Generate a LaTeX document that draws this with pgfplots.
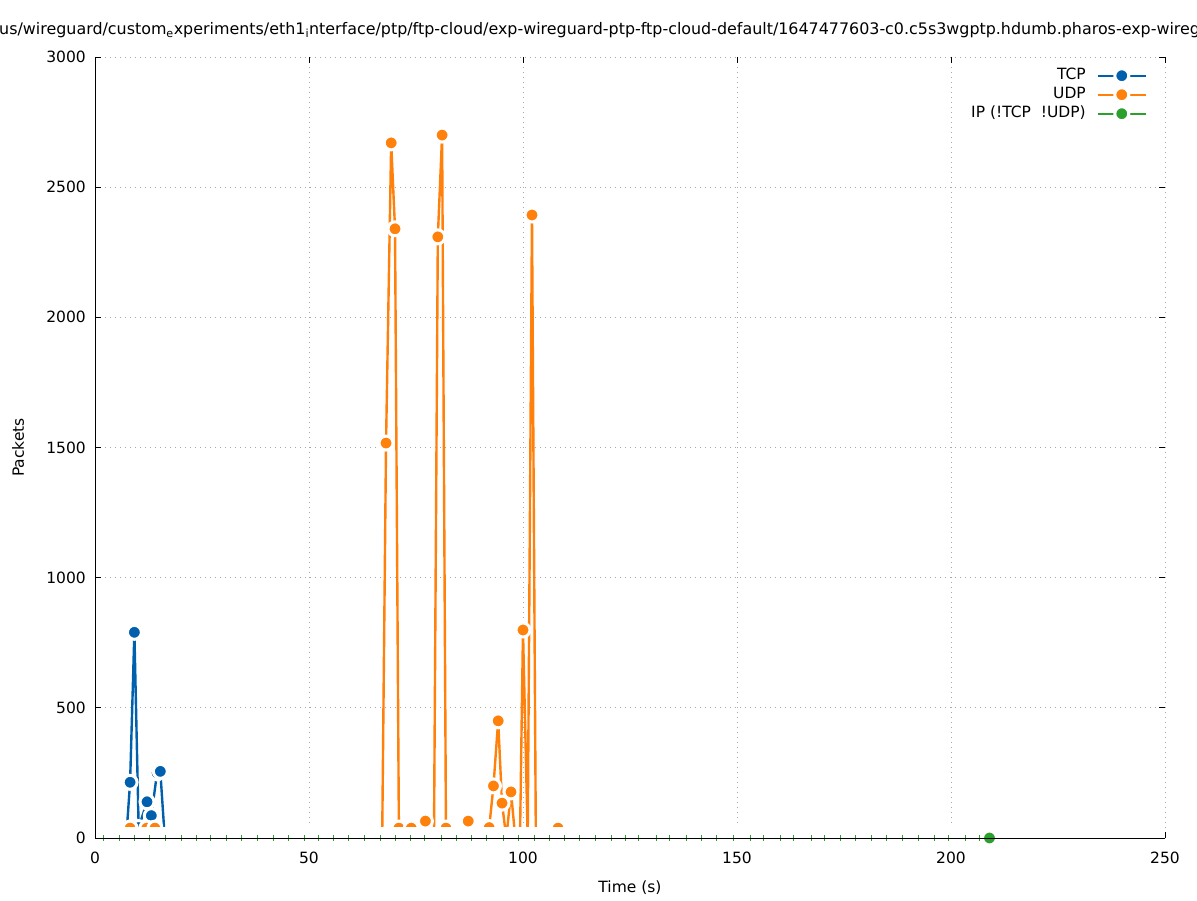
\documentclass[border=0pt]{standalone}
\usepackage{fontspec}
\setmainfont{DejaVu Sans}
\usepackage{pgfplots}
\pgfplotsset{compat=1.18}
\definecolor{tcpblue}{HTML}{0060AD}
\definecolor{udporange}{HTML}{FF800A}
\definecolor{ipgreen}{HTML}{2CA02C}
\definecolor{gridgray}{HTML}{A8A8A8}
\begin{document}
\fontsize{15.5pt}{18pt}\selectfont
\begin{tikzpicture}
\useasboundingbox (0,0) rectangle (1197pt,900pt);
\node[anchor=base west, inner sep=0pt, font=\fontsize{15.9pt}{18pt}\selectfont] at (-1pt,865pt) {us/wireguard/custom\textsubscript{e}xperiments/eth1\textsubscript{i}nterface/ptp/ftp-cloud/exp-wireguard-ptp-ftp-cloud-default/1647477603-c0.c5s3wgptp.hdumb.pharos-exp-wireguard-ptp};
\begin{axis}[name=ax, at={(95pt,62pt)}, anchor=south west, scale only axis,
  width=1070pt, height=781pt,
  xmin=0, xmax=250, ymin=0, ymax=3000,
  xtick={0,50,...,250}, ytick={0,500,...,3000},
  axis line style={draw=none},
  tick align=inside, major tick length=6pt, tick style={black, line width=0.8pt},
  xtick pos=both, ytick pos=both,
  grid=major, grid style={gridgray, dash pattern=on 1pt off 4pt, line width=0.8pt},
  tick label style={inner sep=0pt},
  /pgf/number format/assume math mode=true,
  /pgf/number format/1000 sep={},
  xticklabel shift=14pt, yticklabel shift=9pt,
  xlabel={Time (s)}, ylabel={Packets},
  every axis x label/.style={at={(axis description cs:0.5,0)}, anchor=base, inner sep=0pt, yshift=-54pt},
  every axis y label/.style={at={(axis description cs:-0.07196,0.5)}, rotate=90, anchor=center, inner sep=0pt},
  legend style={at={(axis description cs:1,1)}, anchor=north east, xshift=-18pt, yshift=-11.5pt,
    draw=none, fill=none, inner sep=0pt, row sep=5pt, column sep=11pt,
    nodes={inner sep=0pt, text height=11pt, text depth=3pt}},
  legend cell align=right, legend plot pos=right,
  legend image code/.code={\draw[mark repeat=2,mark phase=2, line width=2pt] plot coordinates {(0pt,0pt) (24pt,0pt) (48pt,0pt)};},
  clip=false, clip marker paths=true,
]
\addplot[tcpblue, line width=2.4pt, mark=*, mark size=7pt,
  mark options={draw=white, fill=tcpblue, line width=3pt}] coordinates {
(7.3,0) (8.2,214) (9.2,790) (10.2,40) (12.15,139) (13.16,86) (14.5,250) (15.26,256) (16.3,0)
};
\addlegendentry{TCP}
\addplot[udporange, line width=2.4pt, mark=*, mark size=7pt,
  mark options={draw=white, fill=udporange, line width=3pt}] coordinates {
(7.2,0) (8.2,38) (9.2,0) (11.2,0) (12.1,38) (13.1,0) (14.0,38) (15.0,0)
(67.1,0) (68.0,1517) (69.2,2670) (70.1,2340) (71.0,38) (72.0,0) (73.9,38) (75.0,0)
(76.1,0) (77.2,65) (78.2,0) (79.2,0) (80.1,2309) (81.1,2700) (82.0,38) (83.0,0)
(86.1,0) (87.2,65) (88.2,0) (91.1,0) (92.1,40) (93.1,200) (94.2,450) (95.1,134)
(96.1,0) (97.2,177) (98.2,0) (99.3,0) (100.0,799) (101.1,0) (102.1,2393) (103.0,0)
(107.2,0) (108.2,38) (109.2,0)
};
\addlegendentry{UDP}
\addplot[draw=white, line width=22pt, forget plot] coordinates {(1.95,0) (206.6,0)};
\addplot[ipgreen, only marks, mark=|, mark size=3pt, mark options={line width=1pt}, forget plot] coordinates {
(1.95,0) (5.84,0) (9.19,0) (12.85,0) (16.36,0) (20.1,0) (23.75,0) (27.1,0)
(30.8,0) (34.3,0) (38.0,0) (41.7,0) (45.2,0) (48.9,0) (52.2,0) (55.7,0)
(59.3,0) (62.9,0) (66.6,0) (70.1,0) (73.6,0) (77.1,0) (81.0,0) (84.5,0)
(88.0,0) (91.5,0) (95.4,0) (98.9,0) (102.8,0) (106.3,0) (109.8,0) (113.3,0)
(117.0,0) (120.6,0) (123.9,0) (127.1,0) (131.1,0) (134.3,0) (138.1,0) (141.7,0)
(145.3,0) (149.1,0) (153.2,0) (156.3,0) (160.1,0) (163.3,0) (167.3,0) (170.5,0)
(174.2,0) (177.7,0) (181.4,0) (185.0,0) (188.6,0) (192.5,0) (196.1,0) (199.4,0)
(203.5,0) (206.6,0)
};
\addplot[ipgreen, line width=2.4pt, mark=*, mark size=7pt,
  mark options={draw=white, fill=ipgreen, line width=3pt}] coordinates {(209.0,0)};
\addlegendentry{IP (!TCP\ \ !UDP)}
\end{axis}
\draw[black, line width=1pt] (ax.north west) -- (ax.south west) -- (ax.south east);
\end{tikzpicture}
\end{document}
